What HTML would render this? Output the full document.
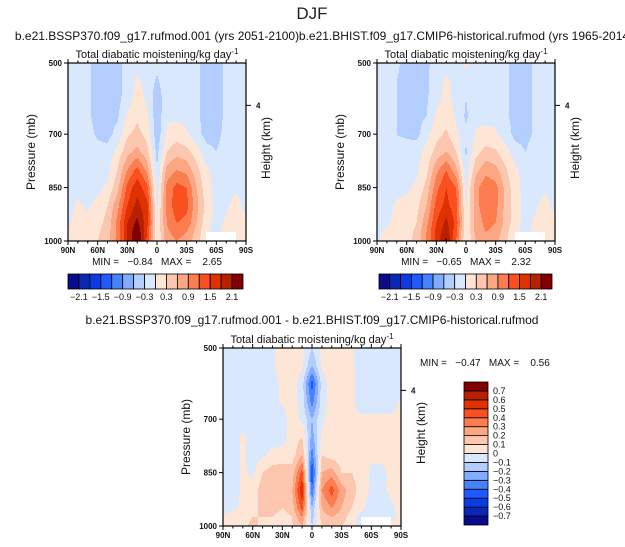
<!DOCTYPE html>
<html><head><meta charset="utf-8">
<style>
html,body{margin:0;padding:0;background:#fff;}
svg{display:block;font-family:"Liberation Sans",sans-serif;}
.pre{white-space:pre;}
</style></head>
<body>
<svg id="fig" width="625" height="547" viewBox="0 0 625 547" xmlns="http://www.w3.org/2000/svg">
<text x="312" y="19" font-size="17" text-anchor="middle" fill="#222">DJF</text>
</svg>
<script>
// ---- data ----
const lats = [90,80,70,60,50,40,30,20,10,0,-10,-20,-30,-40,-50,-60,-70,-80,-90];
const pressures = [500,550,600,650,700,750,800,850,900,950,975,1000];
const levelsTop = [-2.1,-1.8,-1.5,-1.2,-0.9,-0.6,-0.3,0,0.3,0.6,0.9,1.2,1.5,1.8,2.1];
const levelsDiff = [-0.7,-0.6,-0.5,-0.4,-0.3,-0.2,-0.1,0,0.1,0.2,0.3,0.4,0.5,0.6,0.7];
const topTickLabels = ["-2.1","-1.5","-0.9","-0.3","0.3","0.9","1.5","2.1"];
const diffTickLabels = ["-0.7","-0.6","-0.5","-0.4","-0.3","-0.2","-0.1","0","0.1","0.2","0.3","0.4","0.5","0.6","0.7"];
const xTickLats = [90,60,30,0,-30,-60,-90];
const xTickLabels = ["90N","60N","30N","0","30S","60S","90S"];
const yTickP = [500,700,850,1000];
const palette = ["#0a0a8c","#0a28b4","#0a3ce6","#1e5aff","#4682ff","#82aaff","#b4cdff","#d9e8fd","#fde6d6","#fdc6ae","#fca683","#fc7d50","#fa5020","#e03200","#b82000","#820000"];

const fieldSSP = [
[-.1,-.1,-.25,-.4,-.4,-.4,-.2,-.1,-.1,-.2,-.1,-.1,-.1,-.25,-.4,-.4,-.25,-.1,-.1],
[-.1,-.1,-.25,-.4,-.4,-.4,-.2,.05,-.1,-.35,-.1,-.1,-.1,-.25,-.4,-.4,-.25,-.1,-.1],
[-.1,-.1,-.25,-.4,-.4,-.4,-.15,.15,-.05,-.5,-.1,-.1,-.1,-.25,-.4,-.4,-.25,-.1,-.1],
[-.1,-.1,-.25,-.4,-.4,-.35,.05,.25,.05,-.5,-.05,-.05,-.1,-.25,-.4,-.4,-.25,-.1,-.1],
[-.1,-.1,-.2,-.35,-.4,-.2,.25,.4,.2,-.5,.05,.15,.05,-.2,-.4,-.4,-.2,-.1,-.1],
[-.1,-.1,-.1,-.2,-.2,.1,.5,.7,.4,-.4,.3,.5,.4,.15,-.2,-.3,-.1,-.1,-.1],
[-.1,-.1,-.1,-.1,-.1,.3,.9,1.3,.8,-.3,.7,.9,.8,.4,.05,-.1,-.1,-.1,-.1],
[-.1,-.1,-.1,-.1,.05,.5,1.3,1.7,1.3,-.2,1.0,1.3,1.2,.6,.1,-.1,-.1,-.05,-.1],
[-.1,.05,-.05,.1,.3,.8,1.5,1.9,1.6,-.1,1.0,1.4,1.3,.7,.2,-.1,-.05,.1,-.1],
[-.1,.2,.1,.2,.4,1.0,1.8,2.2,1.6,.05,.9,1.2,1.1,.6,.1,-.1,.05,.2,.1],
[.05,.2,.2,.25,.45,1.0,1.8,2.4,1.5,.0,.85,1.0,.9,.5,.05,-.1,.1,.2,.1],
[.1,.2,.3,.3,.5,1.0,1.8,2.5,1.4,-.05,.8,.9,.8,.4,.05,null,null,.2,.1]];

const fieldHIST = [
[-.1,-.1,-.25,-.4,-.4,-.35,-.2,-.1,-.1,.05,-.1,-.1,-.1,-.25,-.4,-.4,-.25,-.1,-.1],
[-.1,-.1,-.3,-.4,-.4,-.35,-.15,.05,-.1,-.1,-.1,-.1,-.1,-.25,-.4,-.4,-.25,-.1,-.1],
[-.1,-.1,-.3,-.4,-.4,-.35,-.1,.1,-.1,-.3,-.1,-.1,-.1,-.25,-.4,-.4,-.25,-.1,-.1],
[-.1,-.1,-.3,-.4,-.4,-.3,.05,.2,-.05,-.35,-.1,-.1,-.1,-.25,-.4,-.4,-.25,-.1,-.1],
[-.1,-.1,-.3,-.35,-.4,-.1,.2,.35,.1,-.25,.05,.1,.05,-.15,-.4,-.4,-.25,-.1,-.1],
[-.1,-.1,-.2,-.15,-.1,.1,.4,.6,.3,-.35,.2,.4,.35,.1,-.15,-.3,-.15,-.1,-.1],
[-.1,-.1,-.1,-.1,-.05,.2,.8,1.2,.7,-.2,.5,.8,.7,.35,.05,-.1,-.1,-.1,-.1],
[-.1,-.1,-.1,-.05,.05,.4,1.1,1.5,1.2,-.1,.8,1.1,1.0,.5,.1,-.1,-.1,-.05,-.1],
[-.1,-.1,.05,.1,.2,.6,1.3,1.6,1.3,-.05,.8,1.1,1.0,.5,.15,-.1,-.05,.1,-.1],
[-.1,-.05,.1,.2,.3,.8,1.5,1.9,1.4,.05,.7,1.0,.9,.5,.1,-.1,.05,.2,.1],
[-.05,.05,.1,.2,.35,.9,1.6,2.0,1.3,.0,.7,.9,.8,.4,.05,-.1,.1,.2,.1],
[-.05,.1,.1,.2,.4,.9,1.6,2.2,1.2,-.05,.6,.8,.7,.35,.05,null,null,.2,.1]];

const fieldDiff = [
[-.05,-.05,-.05,-.05,-.05,-.02,.05,.05,.03,-.1,.03,.05,.05,.02,-.05,-.05,-.05,-.05,-.05],
[-.05,-.05,-.05,-.05,-.05,-.02,.05,.05,.02,-.2,.02,.05,.05,.02,-.05,-.05,-.05,-.05,-.05],
[-.05,-.05,-.05,-.05,-.05,-.05,.03,.05,-.05,-.45,-.05,.05,.05,.03,-.05,-.05,-.05,-.05,-.05],
[-.05,-.05,-.05,-.05,-.05,-.05,.02,.05,-.05,-.35,-.05,.05,.05,.02,-.05,-.05,-.05,-.05,.02],
[-.05,-.05,-.05,-.05,-.05,-.05,-.05,.05,-.02,-.2,-.02,.05,.03,.02,.02,.02,.02,.02,.02],
[-.05,-.05,.02,-.05,-.05,-.05,-.05,.05,.1,-.25,.02,.05,.05,.05,.05,.03,.03,.03,.02],
[-.05,-.05,.02,-.05,-.02,.03,.05,.05,.2,-.35,.1,.05,.05,.05,.05,.02,.02,.02,.02],
[-.05,-.05,.02,-.02,.1,.15,.15,.15,.45,-.5,.2,.25,.1,.1,.05,-.02,-.02,.02,.02],
[-.05,-.05,.02,.05,.15,.2,.15,.2,.6,-.4,.3,.45,.25,.15,.05,-.02,-.02,.02,.05],
[-.05,-.02,.02,.05,.15,.15,.1,.15,.45,-.2,.2,.3,.2,.1,.02,-.05,-.05,-.02,.03],
[.02,.05,.03,.1,.1,.1,.05,.1,.3,-.15,.15,.2,.15,.05,-.05,-.1,-.05,-.02,.02],
[.05,.1,.05,.15,.05,.05,.05,.1,.2,-.1,.1,.1,.1,.05,-.05,null,null,.02,.02]];

const statsSSP = ["-0.84","2.65"];
const statsHIST = ["-0.65","2.32"];
const statsDiff = ["-0.47","0.56"];

// ---- rendering ----
const NS = "http://www.w3.org/2000/svg";
const svg = document.getElementById("fig");
function mk(tag, attrs, parent){
  const e = document.createElementNS(NS, tag);
  for (const k in attrs) e.setAttribute(k, attrs[k]);
  (parent||svg).appendChild(e);
  return e;
}
function txt(s, attrs, parent){ const e = mk("text", attrs, parent); e.textContent = s; return e; }

function sample(field, lat, p){
  let j = 0; while (j < lats.length-2 && lat < lats[j+1]) j++;
  let i = 0; while (i < pressures.length-2 && p > pressures[i+1]) i++;
  const tx = (lats[j]-lat)/(lats[j]-lats[j+1]);
  const ty = (p-pressures[i])/(pressures[i+1]-pressures[i]);
  const a=field[i][j], b=field[i][j+1], c=field[i+1][j], d=field[i+1][j+1];
  if (a===null||b===null||c===null||d===null) return null;
  return (a*(1-tx)+b*tx)*(1-ty)+(c*(1-tx)+d*tx)*ty;
}
function levelIndex(v, levels){ let k=0; while(k<levels.length && v>levels[k]) k++; return k; }

function panel(name, x0, y0, w, h, field, levels, title, stats, opts){
  const g = mk("g", {});  
  const xs = lat => x0 + (90-lat)/180*w;
  const ys = p => y0 + (p-500)/500*h;
  const fg = mk("g", {}, g);
   
  for (let py=0; py<h; py++){
    const p = 500 + (py+0.5)/h*500;
    let runStart=0, runCol=null;
    for (let px=0; px<=w; px++){
      let col = null;
      if (px<w){
        const lat = 90 - (px+0.5)/w*180;
        const v = sample(field, lat, p);
        col = v===null ? "#ffffff" : palette[levelIndex(v, levels)];
      }
      if (col!==runCol){
        if (runCol!==null){
          const r = mk("rect", {x:x0+runStart, y:y0+py, width:px-runStart, height:1.05, fill:runCol}, fg);
          
          
        }
        runStart=px; runCol=col;
      }
    }
  }
  const fr = mk("rect", {x:x0,y:y0,width:w,height:h,fill:"none",stroke:"#000","stroke-width":1.2}, g);
   
  for (let lat=90; lat>=-90; lat-=10){
    const major = lat%30===0, L = major?4:2.5;
    mk("line",{x1:xs(lat),x2:xs(lat),y1:y0,y2:y0-L,stroke:"#000","stroke-width":1},g);
    mk("line",{x1:xs(lat),x2:xs(lat),y1:y0+h,y2:y0+h+L,stroke:"#000","stroke-width":1},g);
  }
  xTickLats.forEach((lat,k)=>{
    const t = txt(xTickLabels[k],{x:xs(lat),y:y0+h+12,"font-size":8,"text-anchor":"middle","font-weight":"bold",fill:"#111"},g);
     
  });
  yTickP.forEach(p=>{
    mk("line",{x1:x0-4,x2:x0,y1:ys(p),y2:ys(p),stroke:"#000"},g);
    const t = txt(String(p),{x:x0-6,y:ys(p)+3,"font-size":8,"text-anchor":"end","font-weight":"bold",fill:"#111"},g);
     
  });
  const hy = y0 + 0.238*h;
  mk("line",{x1:x0+w,x2:x0+w+5,y1:hy,y2:hy,stroke:"#000"},g);
  const h4 = txt("4",{x:x0+w+10,y:hy+3,"font-size":8,"font-weight":"bold",fill:"#111"},g);
   
  const yt = txt("Pressure (mb)",{x:0,y:0,"font-size":12,"text-anchor":"middle",fill:"#111",transform:`translate(${x0-33},${y0+h/2}) rotate(-90)`},g);
   
  const rt = txt("Height (km)",{x:0,y:0,"font-size":12,"text-anchor":"middle",fill:"#111",transform:`translate(${x0+w+24},${y0+h/2-4}) rotate(-90)`},g);
   
  const vt = mk("text",{x:x0+w/2,y:y0-5,"font-size":11,"text-anchor":"middle",fill:"#111"},g);
  vt.innerHTML = 'Total diabatic moistening/kg day<tspan dy="-4" font-size="8">-1</tspan>';
   
  const st = txt(title,{x:opts.tx,y:opts.ty,"font-size":12,"text-anchor":"middle",fill:"#111"},g);
   
  const mm = txt(`MIN =   ${stats[0].replace("-","\u2212")}   MAX =    ${stats[1]}`,{x:opts.mx,y:opts.my,"font-size":10,"text-anchor":opts.ma,fill:"#111","class":"pre"},g);
   
  return g;
}

function hColorbar(name, x0, y0, w, h){
  const g = mk("g",{});  
  const bw = w/palette.length;
  palette.forEach((c,k)=>{
    const r = mk("rect",{x:x0+k*bw,y:y0,width:bw,height:h,fill:c,stroke:"#000","stroke-width":0.8},g);
     
  });
  topTickLabels.forEach((s,k)=>{
    const t = txt(s.replace("-","\u2212"),{x:x0+(1+2*k)*bw,y:y0+h+11,"font-size":9,"text-anchor":"middle",fill:"#111"},g);
     
  });
}
function vColorbar(name, x0, y0, w, h){
  const g = mk("g",{});  
  const bh = h/palette.length;
  palette.forEach((c,k)=>{
    const r = mk("rect",{x:x0,y:y0+h-(k+1)*bh,width:w,height:bh,fill:c,stroke:"#000","stroke-width":0.8},g);
     
  });
  diffTickLabels.forEach((s,k)=>{
    const t = txt(s.replace("-","\u2212"),{x:x0+w+5,y:y0+h-(k+1)*bh+3,"font-size":9,fill:"#111"},g);
     
  });
}

panel("panel-ssp370",68,63,178,178,fieldSSP,levelsTop,"b.e21.BSSP370.f09_g17.rufmod.001 (yrs 2051-2100)",statsSSP,{tx:157,ty:40,mx:157,my:265,ma:"middle"});
panel("panel-historical",377,63,178,178,fieldHIST,levelsTop,"b.e21.BHIST.f09_g17.CMIP6-historical.rufmod (yrs 1965-2014)",statsHIST,{tx:466,ty:40,mx:466,my:265,ma:"middle"});
panel("panel-difference",223,348,178,178,fieldDiff,levelsDiff,"b.e21.BSSP370.f09_g17.rufmod.001 - b.e21.BHIST.f09_g17.CMIP6-historical.rufmod",statsDiff,{tx:312,ty:324,mx:420,my:366,ma:"start"});
hColorbar("colorbar-ssp370",68,274,175,15);
hColorbar("colorbar-historical",379,274,173,15);
vColorbar("colorbar-difference",464,382,24,143);
</script>
</body></html>
